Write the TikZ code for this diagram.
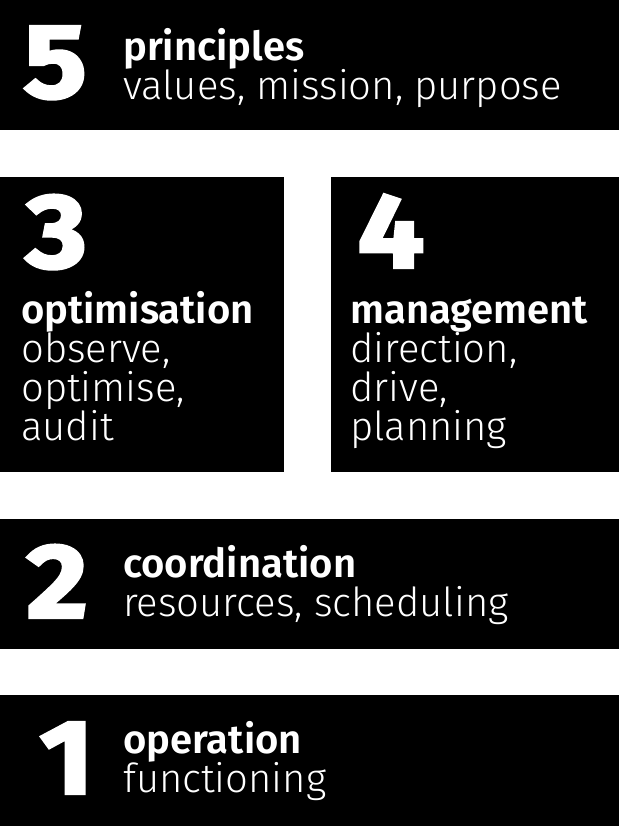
\documentclass[tikz,border=0pt]{standalone}
\usepackage{fontspec}
\IfFontExistsTF{Fira Sans Light}
  {\setmainfont{Fira Sans Light}[BoldFont={Fira Sans SemiBold}]}
  {\setmainfont{Fira Sans}}
\newfontfamily\digitfont{Fira Sans SemiBold}[FakeBold=4]
\newcommand\widedigit[1]{\scalebox{1.13}[1]{#1}}

\begin{document}
\begin{tikzpicture}[
  x=1pt,
  y=-1pt,
  level/.style={
    fill=black,
    inner sep=0pt,
    outer sep=0pt,
    anchor=north west
  },
  digit/.style={
    text=white,
    inner sep=0pt,
    anchor=base west,
    font=\digitfont\fontsize{104}{104}\selectfont
  },
  caption/.style={
    text=white,
    inner sep=0pt,
    anchor=base west,
    align=left,
    font=\fontsize{40}{39}\selectfont
  }
  ]
  \useasboundingbox [fill=white] (0, 0) rectangle (619, 826);

  \node [level, minimum width=619pt, minimum height=130pt] (Principles) at (0, 0) {};
  \node [level, minimum width=284pt, minimum height=295pt] (Optimisation) at (0, 177) {};
  \node [level, minimum width=288pt, minimum height=295pt] (Management) at (331, 177) {};
  \node [level, minimum width=619pt, minimum height=130pt] (Coordination) at (0, 519) {};
  \node [level, minimum width=619pt, minimum height=131pt] (Operation) at (0, 695) {};

  \node [digit] (Five) at (24, 97) {\widedigit{5}};
  \node [digit] (Three) at (26, 267) {\widedigit{3}};
  \node [digit] (Four) at (358, 267) {\widedigit{4}};
  \node [digit] (Two) at (27, 617) {\widedigit{2}};
  \node [digit] (One) at (40, 793) {\widedigit{1}};

  % the base anchor of a multi-line caption is its last line
  \node [caption] (PrinciplesText) at (123, 100) {\textbf{principles}\\values, mission, purpose};
  \node [caption] (OptimisationText) at (21, 440) {\textbf{optimisation}\\observe,\\optimise,\\audit};
  \node [caption] (ManagementText) at (350, 440) {\textbf{management}\\direction,\\drive,\\planning};
  \node [caption] (CoordinationText) at (123, 616) {\textbf{coordination}\\resources, scheduling};
  \node [caption] (OperationText) at (123, 792) {\textbf{operation}\\functioning};
\end{tikzpicture}
\end{document}
